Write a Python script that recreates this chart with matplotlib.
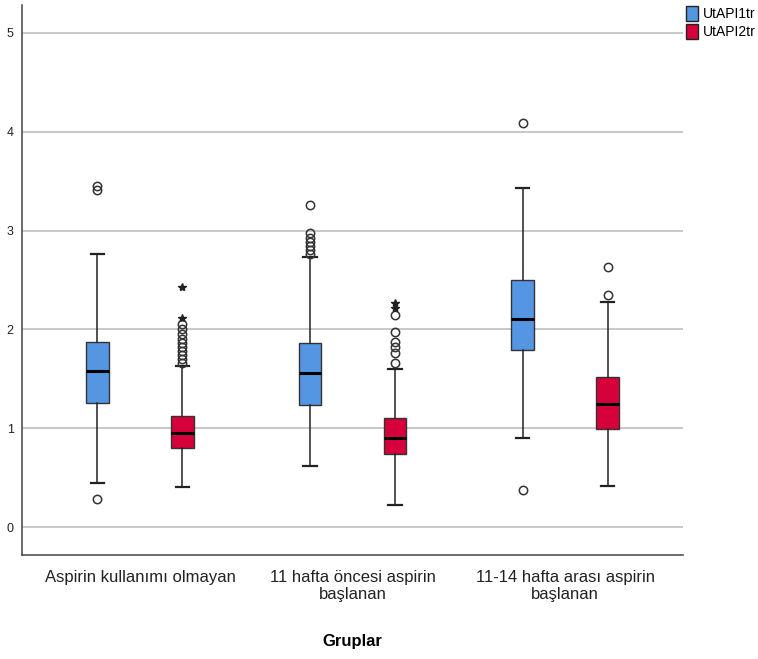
import matplotlib
matplotlib.use("Agg")
import matplotlib.pyplot as plt
from matplotlib.patches import Patch

plt.rcParams['font.family'] = ['Liberation Sans', 'DejaVu Sans']

groups = ["Aspirin kullanımı olmayan", "11 hafta öncesi aspirin\nbaşlanan", "11-14 hafta arası aspirin\nbaşlanan"]
series = ["UtAPI1tr", "UtAPI2tr"]
colors = ["#5596E2", "#D6003A"]

# [whislo, q1, median, q3, whishi]
api1_stats = [[0.45, 1.26, 1.58, 1.87, 2.76],
              [0.62, 1.24, 1.56, 1.86, 2.73],
              [0.90, 1.79, 2.11, 2.50, 3.43]]
api2_stats = [[0.41, 0.80, 0.95, 1.12, 1.63],
              [0.22, 0.74, 0.90, 1.10, 1.60],
              [0.42, 0.99, 1.25, 1.52, 2.28]]
api1_outliers = [[3.45, 3.41, 0.28],
                 [3.26, 2.98, 2.93, 2.88, 2.84, 2.80, 2.76],
                 [4.09, 0.37]]
api2_outliers = [[2.05, 2.00, 1.95, 1.90, 1.86, 1.82, 1.78, 1.74, 1.70, 1.66],
                 [2.15, 1.97, 1.87, 1.82, 1.76, 1.66],
                 [2.63, 2.35]]
api1_extremes = [[], [], []]
api2_extremes = [[2.43, 2.12], [2.27, 2.22], []]

yticks = [0, 1, 2, 3, 4, 5]

fig = plt.figure(figsize=(7.58, 6.59), dpi=100)
ax = fig.add_axes([22/758, 1-555/659, (683-22)/758, (555-5)/659])

offsets = [-0.2, 0.2]
for s_idx, (stats, outs, extr) in enumerate([(api1_stats, api1_outliers, api1_extremes),
                                             (api2_stats, api2_outliers, api2_extremes)]):
    bxs = []
    for g_idx, st in enumerate(stats):
        bxs.append(dict(whislo=st[0], q1=st[1], med=st[2], q3=st[3], whishi=st[4],
                        fliers=outs[g_idx]))
    pos = [g + offsets[s_idx] for g in range(len(groups))]
    ax.bxp(bxs, positions=pos, widths=0.105, patch_artist=True, showfliers=True,
           boxprops=dict(facecolor=colors[s_idx], edgecolor="#333333", linewidth=1),
           medianprops=dict(color="black", linewidth=2.2),
           whiskerprops=dict(color="#222222", linewidth=1.1),
           capprops=dict(color="#222222", linewidth=1.6),
           capwidths=0.065,
           flierprops=dict(marker="o", markersize=6, markerfacecolor="none",
                           markeredgecolor="#333333", markeredgewidth=1.1, linestyle="none"),
           zorder=3)
    for g_idx, e in enumerate(extr):
        if e:
            ax.plot([pos[g_idx]] * len(e), e, linestyle="none", marker="*", markersize=6,
                    color="#222222", zorder=4)

ax.set_xlim(-0.555, 2.555)
ax.set_ylim(-0.283, 5.283)
ax.set_yticks(yticks)
ax.set_yticklabels([str(t) for t in yticks], fontsize=9, color="#222222")
ax.set_xticks(range(len(groups)))
ax.set_xticklabels(groups, fontsize=12, color="#222222", linespacing=1.15)
ax.tick_params(axis="both", length=0)
ax.tick_params(axis="y", pad=6)
ax.tick_params(axis="x", pad=11)
ax.yaxis.grid(True, color="#c8c8c8", linewidth=1.4)
ax.set_axisbelow(True)
for side in ["top", "right"]:
    ax.spines[side].set_visible(False)
for side in ["left", "bottom"]:
    ax.spines[side].set_color("#444444")
    ax.spines[side].set_linewidth(1.1)

ax.set_xlabel("Gruplar", fontsize=12, fontweight="bold", labelpad=23)

handles = [Patch(facecolor=colors[i], edgecolor="#222222", label=series[i]) for i in range(2)]
fig.legend(handles=handles, loc="upper left", bbox_to_anchor=(683/758, 1-3/659),
           frameon=False, fontsize=10, handlelength=0.9, handleheight=1.3,
           handletextpad=0.3, borderaxespad=0, labelspacing=0.2, borderpad=0.2)

fig.savefig("out.png", dpi=100)
